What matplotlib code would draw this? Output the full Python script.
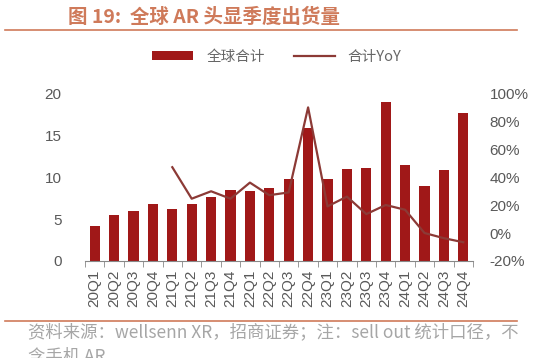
import matplotlib
matplotlib.use("Agg")
import matplotlib.pyplot as plt
from matplotlib.lines import Line2D
from matplotlib.patches import Patch

plt.rcParams['font.family'] = ['Liberation Sans', 'Noto Sans CJK SC', 'DejaVu Sans']

quarters = ['20Q1', '20Q2', '20Q3', '20Q4', '21Q1', '21Q2', '21Q3', '21Q4',
            '22Q1', '22Q2', '22Q3', '22Q4', '23Q1', '23Q2', '23Q3', '23Q4',
            '24Q1', '24Q2', '24Q3', '24Q4']
shipments = [4.2, 5.5, 5.9, 6.8, 6.2, 6.8, 7.6, 8.4,
             8.3, 8.7, 9.8, 15.8, 9.8, 10.9, 11.1, 18.9,
             11.4, 8.9, 10.8, 17.6]
yoy_quarters = quarters[4:]
yoy = [47, 24.5, 29.8, 24.5, 36, 27, 29, 89.7, 19, 26, 13.5, 20, 16.6, 0, -3.7, -6.6]

bar_color = '#a01818'
line_color = '#8c3a36'
accent = '#cf7a5a'
tick_color = '#595959'

W, H = 542, 358
fig = plt.figure(figsize=(W / 100, H / 100), dpi=100)
ax = fig.add_axes([85 / W, 1 - 261 / H, 388 / W, 168 / H])
x = list(range(len(quarters)))
ax.bar(x, shipments, width=0.52, color=bar_color, zorder=2)
ax.set_xlim(-0.5, len(quarters) - 0.5)
ax.set_ylim(0, 20)
ax.set_yticks([0, 5, 10, 15, 20])
ax.set_xticks(x)
ax.set_xticklabels(quarters, rotation=90, fontsize=11, color=tick_color)
ax.set_xticks([i - 0.5 for i in range(len(quarters) + 1)], minor=True)
ax.tick_params(axis='x', which='major', length=0, pad=6)
ax.tick_params(axis='x', which='minor', length=4, color='#888888', direction='out')
ax.tick_params(axis='y', length=0, labelsize=11, labelcolor=tick_color, pad=17)
for s in ['top', 'right', 'left']:
    ax.spines[s].set_visible(False)
ax.spines['bottom'].set_color('#888888')

ax2 = ax.twinx()
xi = [quarters.index(q) for q in yoy_quarters]
ax2.plot(xi, yoy, color=line_color, lw=1.6, zorder=3)
ax2.set_ylim(-20, 100)
ax2.set_yticks([-20, 0, 20, 40, 60, 80, 100])
ax2.set_yticklabels([f'{v}%' for v in [-20, 0, 20, 40, 60, 80, 100]])
ax2.tick_params(axis='y', length=0, labelsize=11, labelcolor=tick_color, pad=12)
for s in ['top', 'right', 'left', 'bottom']:
    ax2.spines[s].set_visible(False)

# Title and rules
fig.text(68 / W, 1 - 17 / H, '图 19:  全球 AR 头显季度出货量', fontsize=14, fontweight='bold',
         color=accent, va='center', ha='left', family=['Noto Sans CJK SC', 'DejaVu Sans'])
fig.add_artist(Line2D([5 / W, 517 / W], [1 - 29.5 / H, 1 - 29.5 / H], color=accent, lw=1.2))
fig.add_artist(Line2D([5 / W, 517 / W], [1 - 320.5 / H, 1 - 320.5 / H], color=accent, lw=1.2))

# Legend
handles = [Patch(facecolor=bar_color, edgecolor='none'),
           Line2D([0], [0], color=line_color, lw=1.6)]
fig.legend(handles, ['全球合计', '合计YoY'], loc='center', bbox_to_anchor=(277 / W, 1 - 57 / H),
           ncol=2, frameon=False, handlelength=2.8, handleheight=0.6,
           columnspacing=2.0, handletextpad=0.9, labelcolor='#666666',
           prop={'family': ['Noto Sans CJK SC', 'DejaVu Sans'], 'size': 10.5})

# Footer
fig.text(28 / W, 1 - 332 / H, '资料来源：wellsenn XR，招商证券；注：sell out 统计口径，不',
         fontsize=12.5, color='#a6a6a6', va='center', ha='left',
         family=['Noto Sans CJK SC', 'DejaVu Sans'])
fig.text(28 / W, 1 - 357 / H, '含手机 AR', fontsize=12.5, color='#a6a6a6', va='center', ha='left',
         family=['Noto Sans CJK SC', 'DejaVu Sans'])

fig.savefig('out.png', dpi=100)
